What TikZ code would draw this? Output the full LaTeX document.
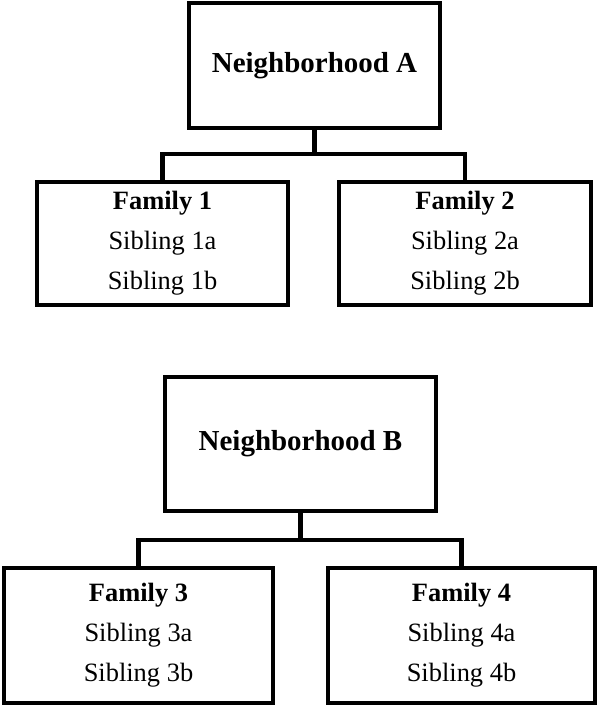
\documentclass[tikz,border=0pt]{standalone}
\usepackage{fontspec}
\setmainfont{Liberation Serif}
\usetikzlibrary{positioning}
\newcommand{\boxline}{3pt}

\begin{document}
\begin{tikzpicture}[x=0.025cm, y=0.025cm, outer sep=0pt]
\tikzstyle{nbhd}=[
                  draw=black,
                  rectangle,
                  line width=\boxline,
                  inner sep=0pt,
                  align=center,
                  font=\fontsize{20.6pt}{24pt}\selectfont\bfseries]

\tikzstyle{family}=[
                  draw=black,
                  rectangle,
                  line width=\boxline,
                  inner sep=0pt,
                  align=center,
                  font=\fontsize{18.8pt}{28.5pt}\selectfont]

\tikzstyle{link}=[line width=\boxline]

\useasboundingbox (0,0) rectangle (600,707);

% first neighborhood
\node[nbhd]   (nbA)  at(314.5,641.5) [minimum width=6.275cm, minimum height=3.125cm] {Neighborhood A};
\node[family] (fam1) at(162.5,463.5) [minimum width=6.275cm, minimum height=3.075cm] {\textbf{Family 1}\\Sibling 1a\\Sibling 1b};
\node[family] (fam2) at(465,463.5)   [minimum width=6.3cm, minimum height=3.075cm]   {\textbf{Family 2}\\Sibling 2a\\Sibling 2b};

\coordinate (busA) at (314.5,553);
\draw [link] (nbA) -- (busA);
\draw [link] (busA) -| (fam1);
\draw [link] (busA) -| (fam2);

% second neighborhood
\node[nbhd]   (nbB)  at(300.5,263)   [minimum width=6.775cm, minimum height=3.35cm]  {Neighborhood B};
\node[family] (fam3) at(138.5,71.5)  [minimum width=6.725cm, minimum height=3.375cm] {\textbf{Family 3}\\Sibling 3a\\Sibling 3b};
\node[family] (fam4) at(461.5,71.5)  [minimum width=6.675cm, minimum height=3.375cm] {\textbf{Family 4}\\Sibling 4a\\Sibling 4b};

\coordinate (busB) at (300.5,167);
\draw [link] (nbB) -- (busB);
\draw [link] (busB) -| (fam3);
\draw [link] (busB) -| (fam4);

\end{tikzpicture}
\end{document}
